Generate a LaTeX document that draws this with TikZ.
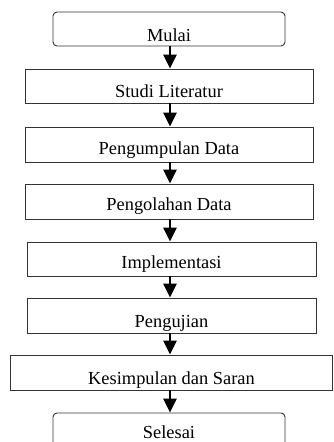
\documentclass[tikz,border=0pt]{standalone}
\usepackage{fontspec}
\setmainfont{Liberation Serif}
\usetikzlibrary{arrows.meta}
\begin{document}
\begin{tikzpicture}[x=1pt,y=-1pt,
  box/.style={draw=black!80, line width=0.9pt, minimum height=34pt, inner sep=0pt,
    text height=#1, text depth=0pt, font=\fontsize{18.4}{20}\selectfont},
  box/.default=22pt,
  term/.style={box=#1, rounded corners=4pt},
  term/.default=24pt,
  arr/.style={line width=2.6pt, -{Triangle[width=13pt,length=14pt]}}
]
\useasboundingbox (0,0) rectangle (333,442);
\node[term=24pt, minimum width=232pt] (mulai) at (169,29) {Mulai};
\node[box=22pt, minimum width=288pt] (studi) at (169,86) {Studi Literatur};
\node[box=19pt, minimum width=288pt, minimum height=35pt] (kumpul) at (169,144.5) {Pengumpulan Data};
\node[box=17pt, minimum width=288pt, minimum height=35pt] (olah) at (169,201.5) {Pengolahan Data};
\node[box=18pt, minimum width=289pt] (impl) at (171.5,259) {Implementasi};
\node[box=23pt, minimum width=289pt, minimum height=35pt] (uji) at (171.5,315.5) {Pengujian};
\node[box=23pt, minimum width=322pt, minimum height=35pt] (simp) at (171.5,372.5) {Kesimpulan dan Saran};
\node[term=16pt, minimum width=232pt] (selesai) at (169,430) {Selesai};
\draw[arr] (170,46) -- (170,46 |- studi.north);
\draw[arr] (170,0 |- studi.south) -- (170,0 |- kumpul.north);
\draw[arr] (170,0 |- kumpul.south) -- (170,0 |- olah.north);
\draw[arr] (170,0 |- olah.south) -- (170,0 |- impl.north);
\draw[arr] (170,0 |- impl.south) -- (170,0 |- uji.north);
\draw[arr] (170,0 |- uji.south) -- (170,0 |- simp.north);
\draw[arr] (170,0 |- simp.south) -- (170,0 |- selesai.north);
\end{tikzpicture}
\end{document}
